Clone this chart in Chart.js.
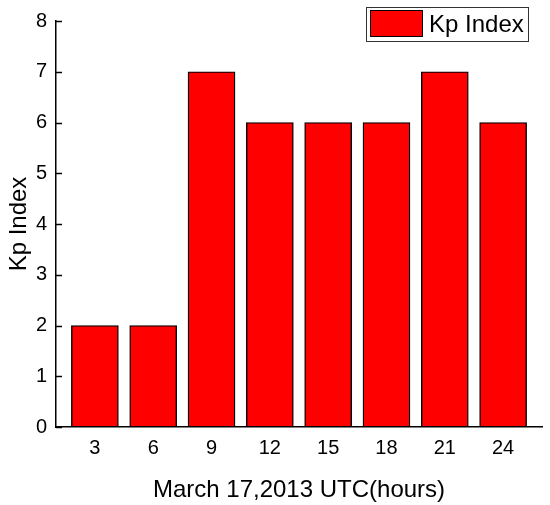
<!DOCTYPE html>
<html>
<head>
<meta charset="utf-8">
<script src="https://cdn.jsdelivr.net/npm/chart.js@4"></script>
<style>
  html, body { margin: 0; padding: 0; background: #fff; }
  #wrap { width: 550px; height: 505px; }
</style>
</head>
<body>
<div id="wrap"><canvas id="kp-chart" width="550" height="505"></canvas></div>
<script>
// chart data
var hours = [3, 6, 9, 12, 15, 18, 21, 24];
var kpValues = [2, 2, 7, 6, 6, 6, 7, 6];
var yTicks = [0, 1, 2, 3, 4, 5, 6, 7, 8];
var seriesLabel = 'Kp Index';

var FONT = '"Liberation Sans", Arial, sans-serif';

// draws inward tick marks on the y axis and the boxed legend
var axisPlugin = {
    id: 'axisDecor',
    afterDraw: function(chart) {
        var ctx = chart.ctx;
        var y = chart.scales.y;
        var area = chart.chartArea;
        ctx.save();
        ctx.strokeStyle = '#000';
        ctx.lineWidth = 1.5;
        yTicks.forEach(function(v) {
            var py = Math.round(y.getPixelForValue(v)) + 0.5;
            ctx.beginPath();
            ctx.moveTo(area.left, py);
            ctx.lineTo(area.left + 6, py);
            ctx.stroke();
        });

        // legend box
        var ds = chart.data.datasets[0];
        ctx.lineWidth = 1;
        ctx.strokeStyle = '#333';
        ctx.strokeRect(366.5, 7.5, 162, 34);
        ctx.fillStyle = ds.backgroundColor;
        ctx.fillRect(370, 10, 53, 27);
        ctx.strokeStyle = '#000';
        ctx.strokeRect(370.5, 10.5, 52, 26);
        ctx.fillStyle = '#000';
        ctx.font = '24px ' + FONT;
        ctx.textBaseline = 'middle';
        ctx.textAlign = 'left';
        ctx.fillText(ds.label, 429, 25);
        ctx.restore();
    }
};

var ctx = document.getElementById('kp-chart').getContext('2d');

var chart = new Chart(ctx, {
    type: 'bar',
    data: {
        datasets: [{
            label: seriesLabel,
            data: hours.map(function(h, i) {
                return { x: h, y: kpValues[i] };
            }),
            backgroundColor: '#ff0000',
            borderColor: '#000',
            borderWidth: 1.4,
            borderSkipped: false,
            barThickness: 47
        }]
    },
    options: {
        responsive: false,
        animation: false,
        layout: {
            padding: { top: 21, right: 8, left: 0, bottom: 0 }
        },
        plugins: {
            legend: { display: false },
            tooltip: { enabled: false }
        },
        scales: {
            x: {
                type: 'linear',
                offset: false,
                min: 1,
                max: 26,
                afterBuildTicks: function(scale) {
                    scale.ticks = hours.map(function(h) { return { value: h }; });
                },
                afterFit: function(scale) { scale.height = 78; },
                grid: { display: false, drawTicks: false },
                border: { display: true, color: '#000', width: 1.5 },
                ticks: {
                    color: '#000',
                    padding: 9,
                    font: { family: FONT, size: 20 },
                    autoSkip: false,
                    maxRotation: 0
                },
                title: {
                    display: true,
                    text: 'March 17,2013 UTC(hours)',
                    color: '#000',
                    font: { family: FONT, size: 24 },
                    padding: { top: 8, bottom: 0 }
                }
            },
            y: {
                min: 0,
                max: 8,
                afterBuildTicks: function(scale) {
                    scale.ticks = yTicks.map(function(v) { return { value: v }; });
                },
                afterFit: function(scale) { scale.width = 56; },
                grid: { display: false, drawTicks: false },
                border: { display: true, color: '#000', width: 1.5 },
                ticks: {
                    color: '#000',
                    padding: 9,
                    font: { family: FONT, size: 20 }
                },
                title: {
                    display: true,
                    text: 'Kp Index',
                    color: '#000',
                    font: { family: FONT, size: 24 },
                    padding: { top: 5, bottom: 0 }
                }
            }
        }
    },
    plugins: [axisPlugin]
});
</script>
</body>
</html>
